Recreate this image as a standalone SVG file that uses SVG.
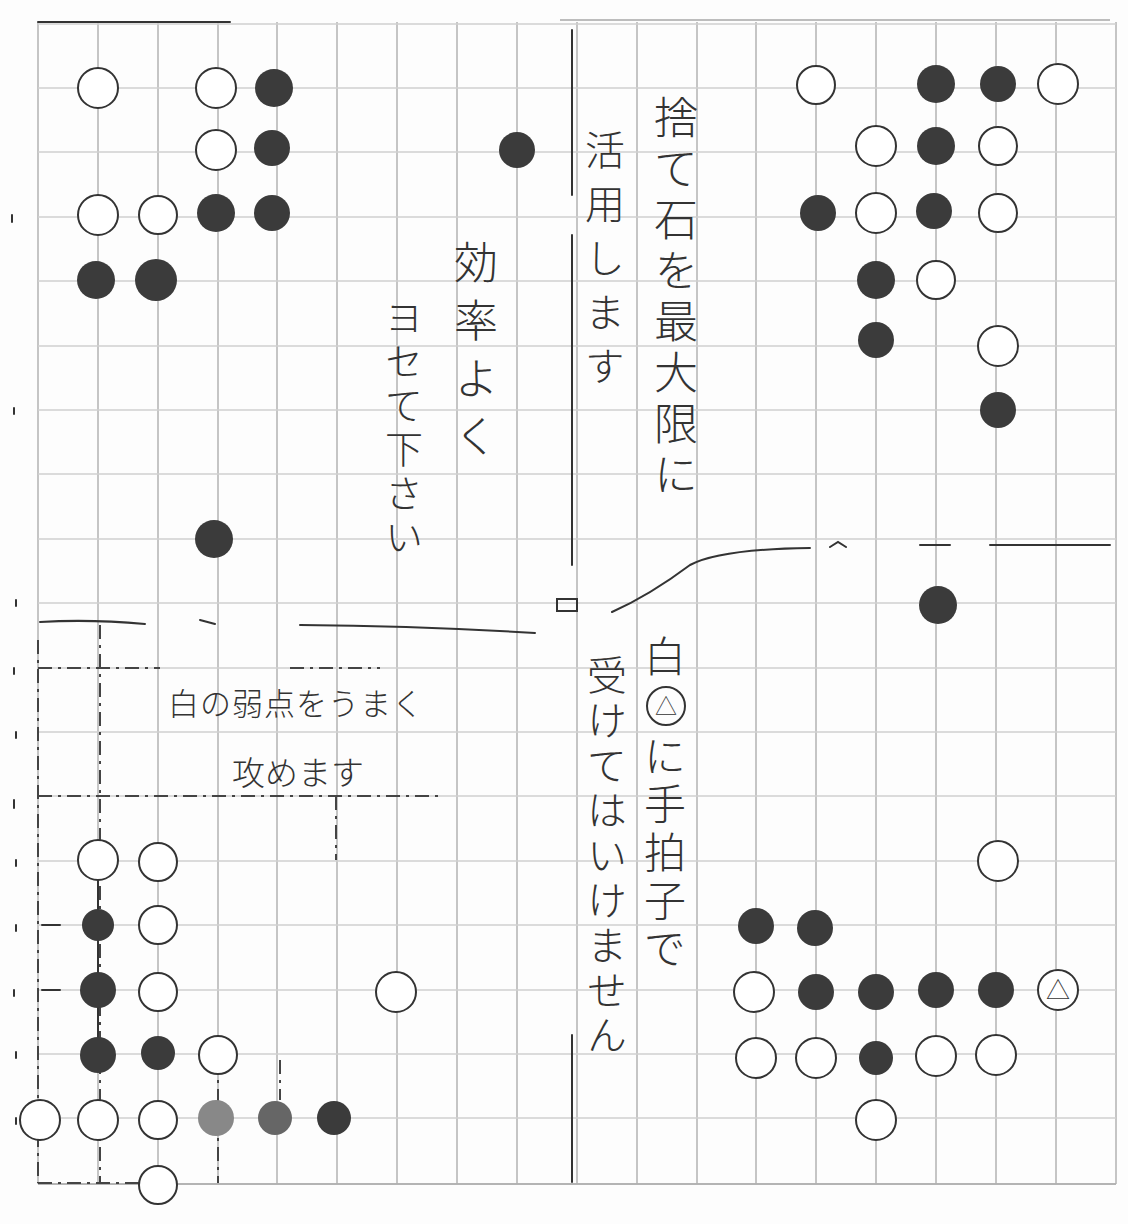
<svg xmlns="http://www.w3.org/2000/svg" width="1128" height="1224" viewBox="0 0 1128 1224">
<defs>
<style>
.gv{stroke:#a8a8a8;stroke-width:1.3;fill:none}
.gh{stroke:#cfcfcf;stroke-width:1.3;fill:none}
.ink{stroke:#333;stroke-width:2;fill:none;stroke-linecap:round}
.dd{stroke:#444;stroke-width:2;fill:none;stroke-dasharray:14 6 3 6}
.b{fill:#3b3b3b}
.w{fill:#fff;stroke:#333;stroke-width:2}
.t{font-family:"Noto Sans CJK JP","Noto Sans CJK SC",sans-serif;fill:#333;font-weight:300}
.v{writing-mode:vertical-rl}
</style>
</defs>
<rect width="1128" height="1224" fill="#fdfdfd"/>
<g id="grid">
<path class="gv" d="M38 22V1184M98 22V1184M158 22V1184M218 22V1184M277 22V1184M337 22V1184M397 22V1184M457 22V1184M517 22V1184M577 22V1184M637 22V1184M697 22V1184M756 22V1184M816 22V1184M876 22V1184M936 22V1184M996 22V1184M1056 22V1184M1116 22V1184"/>
<path class="gh" d="M38 24H1116M38 88H1116M38 152H1116M38 217H1116M38 281H1116M38 346H1116M38 410H1116M38 474H1116M38 539H1116M38 603H1116M38 668H1116M38 732H1116M38 796H1116M38 861H1116M38 925H1116M38 990H1116M38 1054H1116M38 1118H1116M38 1184H1116"/>
<path class="gv" d="M38 1184H1116M560 20H1110"/>
</g>
<g id="connectors">
<path class="ink" d="M38 22H230"/>
<path class="ink" d="M572 30V195M572 235V565"/>
<path class="ink" d="M572 1035V1182"/>
<path class="ink" d="M40 622Q90 619 145 624M200 620L215 624M300 625Q420 626 535 633"/>
<rect class="ink" x="557" y="599" width="20" height="12" stroke-width="1.8"/>
<path class="ink" d="M612 612Q650 595 690 565Q720 549 810 548M830 547L838 542L846 547"/>
<path class="ink" d="M920 545H950M990 545H1110" stroke-width="1.5"/>
<path class="dd" d="M38 640V1183M100 625V1183M38 668H160M290 668H380M38 796H440M336 796V860M38 1183H150M218 1060V1183M280 1060V1100"/>
<path class="ink" d="M98 860V1060M42 925H60M42 990H60"/>
<path class="ink" stroke-width="1.2" d="M12 215V222M14 408V414M16 600V606M14 668V674M16 732V738M14 800V808M16 860V866M16 925V931M14 990V996M16 1052V1058M16 1118V1124"/>
</g>
<g id="stones-top-left">
<circle id="s1" class="w" cx="98" cy="88" r="20"/>
<circle id="s2" class="w" cx="216" cy="88" r="20"/>
<circle id="s3" class="b" cx="274" cy="88" r="19"/>
<circle id="s4" class="w" cx="216" cy="150" r="20"/>
<circle id="s5" class="b" cx="272" cy="148" r="18"/>
<circle id="s6" class="w" cx="98" cy="215" r="20"/>
<circle id="s7" class="w" cx="158" cy="215" r="19"/>
<circle id="s8" class="b" cx="216" cy="213" r="19"/>
<circle id="s9" class="b" cx="272" cy="213" r="18"/>
<circle id="s10" class="b" cx="96" cy="280" r="19"/>
<circle id="s11" class="b" cx="156" cy="280" r="21"/>
</g>
<g id="stones-center-left">
<circle id="s12" class="b" cx="517" cy="150" r="18"/>
<circle id="s13" class="b" cx="214" cy="539" r="19"/>
</g>
<g id="stones-top-right">
<circle id="s14" class="w" cx="816" cy="85" r="19"/>
<circle id="s15" class="b" cx="936" cy="84" r="19"/>
<circle id="s16" class="b" cx="998" cy="84" r="18"/>
<circle id="s17" class="w" cx="1058" cy="84" r="20"/>
<circle id="s18" class="w" cx="876" cy="146" r="20"/>
<circle id="s19" class="b" cx="936" cy="146" r="19"/>
<circle id="s20" class="w" cx="998" cy="146" r="19"/>
<circle id="s21" class="b" cx="818" cy="213" r="18"/>
<circle id="s22" class="w" cx="876" cy="213" r="20"/>
<circle id="s23" class="b" cx="934" cy="211" r="18"/>
<circle id="s24" class="w" cx="998" cy="213" r="19"/>
<circle id="s25" class="b" cx="876" cy="280" r="19"/>
<circle id="s26" class="w" cx="936" cy="280" r="19"/>
<circle id="s27" class="b" cx="876" cy="340" r="18"/>
<circle id="s28" class="w" cx="998" cy="346" r="20"/>
<circle id="s29" class="b" cx="998" cy="410" r="18"/>
<circle id="s30" class="b" cx="938" cy="605" r="19"/>
</g>
<g id="stones-bottom-left">
<circle id="s31" class="w" cx="98" cy="860" r="20"/>
<circle id="s32" class="w" cx="158" cy="862" r="19"/>
<circle id="s33" class="b" cx="98" cy="925" r="16"/>
<circle id="s34" class="w" cx="158" cy="925" r="19"/>
<circle id="s35" class="b" cx="98" cy="990" r="18"/>
<circle id="s36" class="w" cx="158" cy="992" r="19"/>
<circle id="s37" class="b" cx="98" cy="1055" r="18"/>
<circle id="s38" class="b" cx="158" cy="1053" r="17"/>
<circle id="s39" class="w" cx="218" cy="1055" r="19"/>
<circle id="s40" class="w" cx="40" cy="1120" r="20"/>
<circle id="s41" class="w" cx="98" cy="1120" r="20"/>
<circle id="s42" class="w" cx="158" cy="1120" r="19"/>
<circle id="s43" cx="216" cy="1118" r="18" fill="#888"/>
<circle id="s44" cx="275" cy="1118" r="17" fill="#666"/>
<circle id="s45" class="b" cx="334" cy="1118" r="17"/>
<circle id="s46" class="w" cx="158" cy="1185" r="19"/>
<circle id="s47" class="w" cx="396" cy="992" r="20"/>
</g>
<g id="stones-bottom-right">
<circle id="s48" class="w" cx="998" cy="861" r="20"/>
<circle id="s49" class="b" cx="756" cy="926" r="18"/>
<circle id="s50" class="b" cx="815" cy="928" r="18"/>
<circle id="s51" class="w" cx="754" cy="992" r="20"/>
<circle id="s52" class="b" cx="816" cy="992" r="18"/>
<circle id="s53" class="b" cx="876" cy="992" r="18"/>
<circle id="s54" class="b" cx="936" cy="990" r="18"/>
<circle id="s55" class="b" cx="996" cy="990" r="18"/>
<g id="s56"><circle class="w" cx="1058" cy="990" r="20"/><text class="t" x="1058" y="999" font-size="24" text-anchor="middle">△</text></g>
<circle id="s57" class="w" cx="756" cy="1058" r="20"/>
<circle id="s58" class="w" cx="816" cy="1058" r="20"/>
<circle id="s59" class="b" cx="876" cy="1058" r="17"/>
<circle id="s60" class="w" cx="936" cy="1056" r="20"/>
<circle id="s61" class="w" cx="996" cy="1055" r="20"/>
<circle id="s62" class="w" cx="876" cy="1120" r="20"/>
</g>
<g id="notes">
<text class="t v" x="676" y="95" font-size="44" letter-spacing="7">捨て石を最大限に</text>
<text class="t v" x="605" y="130" font-size="40" letter-spacing="14">活用します</text>
<text class="t v" x="476" y="240" font-size="44" letter-spacing="14">効率よく</text>
<text class="t v" x="404" y="298" font-size="38" letter-spacing="6">ヨセて下さい</text>
<text class="t v" x="665" y="635" font-size="42">白</text>
<circle cx="666" cy="706" r="19" fill="none" stroke="#333" stroke-width="2"/>
<text class="t" x="666" y="714" font-size="22" text-anchor="middle">△</text>
<text class="t v" x="665" y="735" font-size="42" letter-spacing="6">に手拍子で</text>
<text class="t v" x="607" y="655" font-size="40" letter-spacing="5">受けてはいけません</text>
<text class="t" x="168" y="715" font-size="31" letter-spacing="1">白の弱点をうまく</text>
<text class="t" x="232" y="785" font-size="33">攻めます</text>
</g>
</svg>
